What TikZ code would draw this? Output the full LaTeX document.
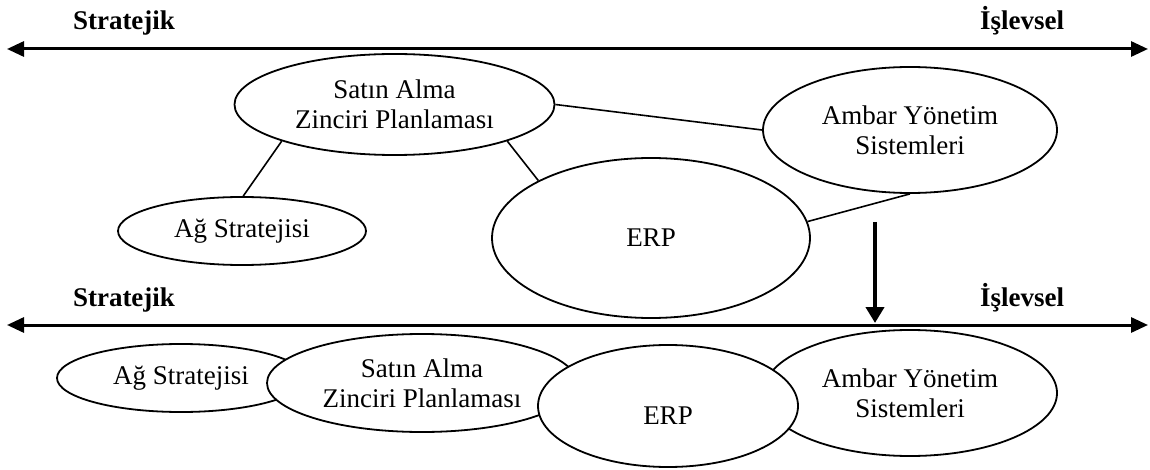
\documentclass[tikz,border=0pt]{standalone}
\usepackage{fontspec}
\setmainfont{Liberation Serif}
\usetikzlibrary{shapes.geometric,arrows.meta}
\begin{document}
\begin{tikzpicture}[x=0.5pt,y=-0.5pt,
  bubble/.style={ellipse,draw,fill=white,line width=0.9pt,inner sep=0pt,
    align=center,font=\fontsize{13.5}{15}\selectfont},
  link/.style={line width=0.8pt},
  axis/.style={line width=1.5pt,
    {Triangle[length=8.5pt,width=7.5pt]}-{Triangle[length=8.5pt,width=7.5pt]}},
  pole/.style={font=\bfseries\fontsize{13.5}{15}\selectfont,anchor=base},
  shiftdown/.style={line width=2pt,-{Triangle[length=8pt,width=9pt]}}]
\useasboundingbox (0,0) rectangle (1150,470);

% ---- upper axis ----
\coordinate (tl) at (7,49);
\coordinate (tr) at (1148,49);
\draw[axis] (tl) -- (tr);
\node[pole] (s1) at (124,30) {Stratejik};
\node[pole] (i1) at (1022,30) {İşlevsel};

% ---- upper network ----
\node[bubble,minimum width=160pt,minimum height=50.5pt] (sa1) at (394.5,104.5) {Satın Alma\\Zinciri Planlaması};
\node[bubble,minimum width=147pt,minimum height=63pt] (am1) at (910,130) {Ambar Yönetim\\Sistemleri};
\node[bubble,minimum width=124pt,minimum height=34pt] (ag1) at (242,231) {Ağ Stratejisi};
\node[bubble,minimum width=159pt,minimum height=80pt] (erp1) at (651,238) {ERP};

\draw[link] (sa1.198) -- (ag1.88);
\draw[link] (sa1.342) -- (erp1.153);
\draw[link] (sa1.0) -- (am1.180);
\draw[link] (erp1.6) -- (am1.270);

% ---- lower axis ----
\coordinate (bl) at (7,325);
\coordinate (br) at (1148,325);
\draw[axis] (bl) -- (br);
\node[pole] (s2) at (124,306) {Stratejik};
\node[pole] (i2) at (1022,306) {İşlevsel};

% ---- transition arrow ----
\coordinate (d0) at (875,222);
\coordinate (d1) at (875,323);
\draw[shiftdown] (d0) -- (d1);

% ---- lower chain (overlapping) ----
\node[bubble,minimum width=124pt,minimum height=34pt] (ag2) at (181,378) {Ağ Stratejisi};
\node[bubble,minimum width=155pt,minimum height=49pt] (sa2) at (422,383) {Satın Alma\\Zinciri Planlaması};
\node[bubble,minimum width=147pt,minimum height=63pt] (am2) at (910,393) {Ambar Yönetim\\Sistemleri};
\node[bubble,minimum width=130pt,minimum height=61pt,text height=18pt,text depth=0pt] (erp2) at (668,406) {ERP};
\end{tikzpicture}
\end{document}
